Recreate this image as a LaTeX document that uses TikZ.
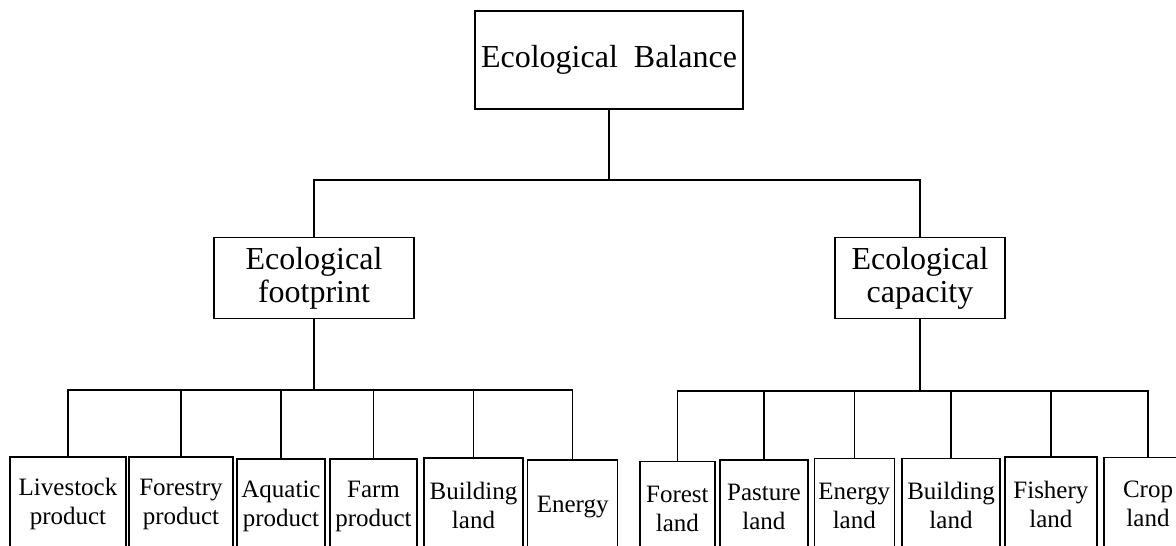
\documentclass[tikz,border=0pt]{standalone}
\usepackage{fontspec}
\setmainfont{Liberation Serif}
\usepackage{tikz}
\usetikzlibrary{shapes.geometric, arrows}
\usetikzlibrary{positioning}
\tikzstyle{rootBox} = [rectangle, draw=black, line width=1.3pt, minimum width=268pt, minimum height=98pt, inner sep=2pt, font=\fontsize{32}{33}\selectfont]
\tikzstyle{midBox} = [rectangle, draw=black, line width=1.3pt, minimum height=81pt, inner sep=2pt, align=center, font=\fontsize{32}{33}\selectfont]
\tikzstyle{leafBox} = [rectangle, draw=black, line width=1.3pt, minimum height=94pt, inner sep=2pt, align=center, font=\fontsize{25}{29}\selectfont]
\tikzstyle{link} = [line width=1.3pt]

\begin{document}
\begin{tikzpicture}[x=1pt, y=-1pt]
                                \useasboundingbox (0,0) rectangle (1176,546);
                                \clip (0,0) rectangle (1176,546);
                                \node (top) [rootBox] at (609,60) {Ecological\hspace{0.5em}Balance};
                                \node (fp) [midBox, minimum width=200pt] at (314,278) {Ecological\\footprint};
                                \node (cap) [midBox, minimum width=170pt] at (920,278) {Ecological\\capacity};
                                % footprint items
                                \node (lv) [leafBox, minimum width=116pt] at (68,504) {Livestock\\product};
                                \node (fo) [leafBox, minimum width=104pt] at (181,504) {Forestry\\product};
                                \node (aq) [leafBox, minimum width=88pt] at (281,506) {Aquatic\\product};
                                \node (fa) [leafBox, minimum width=87pt] at (373.5,506) {Farm\\product};
                                \node (bu) [leafBox, minimum width=99pt] at (473.5,505) {Building\\land};
                                \node (en) [leafBox, minimum width=90pt] at (572.7,507) {Energy};
                                % capacity items
                                \node (fl) [leafBox, minimum width=75pt] at (677.4,508.7) {Forest\\land};
                                \node (pa) [leafBox, minimum width=88pt] at (763.9,507) {Pasture\\land};
                                \node (el) [leafBox, minimum width=80pt] at (854.3,505.7) {Energy\\land};
                                \node (bl) [leafBox, minimum width=98pt] at (951,505.7) {Building\\land};
                                \node (fi) [leafBox, minimum width=92pt] at (1050.9,504) {Fishery\\land};
                                \node (cr) [leafBox, minimum width=88pt] at (1148,504.3) {Crop\\land};
                                \coordinate (busTop) at (609,180);
                                \coordinate (busL) at (314,390);
                                \coordinate (busR) at (920,391);
                                \draw [link] (top) -- (busTop);
                                \draw [link] (busTop) -| (fp);
                                \draw [link] (busTop) -| (cap);
                                \draw [link] (fp) -- (busL);
                                \draw [link] (busL) -| (lv);
                                \draw [link] (busL) -| (fo);
                                \draw [link] (busL) -| (aq);
                                \draw [link] (busL) -| (fa);
                                \draw [link] (busL) -| (bu);
                                \draw [link] (busL) -| (en);
                                \draw [link] (cap) -- (busR);
                                \draw [link] (busR) -| (fl);
                                \draw [link] (busR) -| (pa);
                                \draw [link] (busR) -| (el);
                                \draw [link] (busR) -| (bl);
                                \draw [link] (busR) -| (fi);
                                \draw [link] (busR) -| (cr);
                            \end{tikzpicture}
\end{document}
